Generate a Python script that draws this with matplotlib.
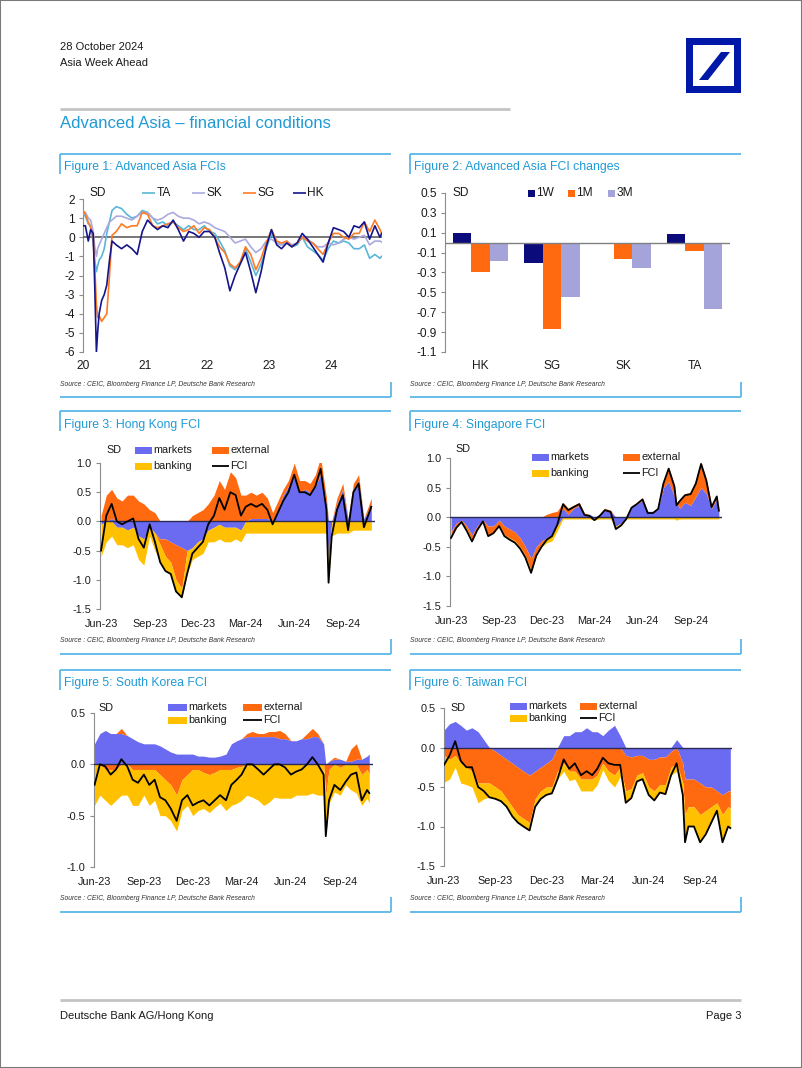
import numpy as np
import pandas as pd
import matplotlib
matplotlib.use("Agg")
import matplotlib.pyplot as plt
from matplotlib.patches import Rectangle, Polygon
from matplotlib.lines import Line2D

plt.rcParams['font.family'] = ['Liberation Sans', 'DejaVu Sans']

# ---------------- DATA ----------------
# Figure 1: Advanced Asia FCIs (SD)
fci_dates = ['2020-01-02', '2020-01-15', '2020-02-01', '2020-02-15', '2020-03-01', '2020-03-10',
             '2020-03-20', '2020-03-27', '2020-04-05', '2020-04-20', '2020-05-05', '2020-05-20',
             '2020-06-05', '2020-06-20',
             '2020-07-15', '2020-08-15', '2020-09-15', '2020-10-15', '2020-11-15', '2020-12-15',
             '2021-01-15', '2021-02-15', '2021-03-15', '2021-04-15', '2021-05-15', '2021-06-15',
             '2021-07-15', '2021-08-15', '2021-09-15', '2021-10-15', '2021-11-15', '2021-12-15',
             '2022-01-15', '2022-02-15', '2022-03-15', '2022-04-15', '2022-05-15', '2022-06-15',
             '2022-07-15', '2022-08-15', '2022-09-15', '2022-10-15', '2022-11-15', '2022-12-15',
             '2023-01-15', '2023-02-15', '2023-03-15', '2023-04-15', '2023-05-15', '2023-06-15',
             '2023-07-15', '2023-08-15', '2023-09-15', '2023-10-15', '2023-11-15', '2023-12-15',
             '2024-01-15', '2024-02-15', '2024-03-15', '2024-04-15', '2024-05-15', '2024-06-15',
             '2024-07-15', '2024-08-15', '2024-09-15', '2024-10-15', '2024-10-25']
fci_TA = [1.2, 1.1, 0.7, 0.6, -0.3, -1.2, -1.8, -1.5, -1.2, -1.0, -0.6, 0.2, 0.8, 1.4,
          1.6, 1.5, 1.2, 1.0, 1.1, 1.4,
          1.3, 1.0, 0.7, 0.8, 0.6, 0.8, 0.6, 0.4, 0.6, 0.4, 0.4, 0.6,
          0.3, 0.2, -0.2, -0.7, -1.5, -1.7, -1.3, -0.6, -1.3, -2.0, -1.4, -0.6,
          0.2, -0.3, -0.4, -0.3, -0.5, -0.4, 0.0, -0.5, -0.7, -0.9, -1.2, -0.6,
          -0.2, -0.3, -0.2, -0.3, -0.6, -0.6, -0.4, -1.1, -0.9, -1.1, -1.0]
fci_SK = [1.3, 1.3, 1.0, 0.9, 0.3, -0.5, -1.0, -0.6, -0.4, -0.1, 0.2, 0.5, 0.8, 0.9,
          1.1, 1.1, 1.0, 0.9, 1.1, 1.3,
          1.3, 1.0, 0.9, 1.0, 1.2, 1.3, 1.1, 1.0, 1.0, 0.9, 0.7, 0.8,
          0.7, 0.5, 0.4, 0.3, 0.0, -0.3, -0.2, -0.1, -0.5, -0.8, -0.6, -0.2,
          -0.1, -0.3, -0.4, -0.2, -0.4, -0.3, 0.0, -0.1, -0.3, -0.5, -0.5, -0.3,
          -0.4, -0.3, -0.1, 0.0, -0.1, 0.0, 0.1, -0.4, -0.2, -0.2, -0.25]
fci_SG = [1.4, 1.2, 0.8, 0.5, 0.0, -1.5, -3.5, -4.2, -4.1, -4.4, -4.2, -4.0, -2.0, 0.1,
          0.3, 0.7, 0.5, 0.6, 0.6, 1.3,
          1.2, 0.6, 0.5, 0.6, 0.7, 0.8, 0.5, 0.3, 0.4, 0.6, 0.2, 0.5,
          0.4, 0.0, -0.5, -0.8, -1.4, -1.6, -1.3, -0.5, -0.9, -1.7, -1.1, -0.3,
          0.4, -0.2, -0.3, -0.2, -0.5, -0.3, 0.0, -0.2, -0.3, -0.6, -0.9, -0.3,
          0.2, 0.2, 0.0, -0.1, 0.2, 0.2, 0.8, 0.3, 0.9, 0.4, 0.2]
fci_HK = [0.6, 0.6, -0.2, 0.4, 0.2, -2.5, -6.0, -5.0, -4.0, -3.3, -3.0, -2.5, -1.2, -0.2,
          -0.4, -0.6, -0.4, -0.6, -0.9, 0.3,
          0.9, 0.6, 0.4, 0.6, 0.5, 0.9, 0.4, -0.2, 0.3, 0.2, 0.0, 0.3,
          0.3, 0.0, -0.8, -1.6, -2.8, -2.0, -1.4, -0.8, -1.8, -2.9, -1.8, -0.5,
          0.4, -0.4, -0.6, -0.3, -0.5, -0.3, 0.2, -0.1, -0.5, -0.9, -1.3, -0.3,
          0.5, 0.4, 0.3, 0.0, 0.6, 0.5, 0.8, -0.1, 0.6, 0.0, 0.2]
fig1_years = ['20', '21', '22', '23', '24']

# Figure 2: Advanced Asia FCI changes (SD)
chg_markets = ['HK', 'SG', 'SK', 'TA']
chg_1W = [0.10, -0.20, 0.00, 0.09]
chg_1M = [-0.30, -0.87, -0.16, -0.08]
chg_3M = [-0.18, -0.55, -0.25, -0.67]

# Figures 3-6: FCI decomposition (SD)
comp_dates = ['2023-06-01', '2023-06-11', '2023-06-21', '2023-07-01', '2023-07-11', '2023-07-21',
              '2023-08-01', '2023-08-11', '2023-08-21', '2023-09-01', '2023-09-11', '2023-09-21',
              '2023-10-01', '2023-10-11', '2023-10-21', '2023-11-01', '2023-11-11', '2023-11-21',
              '2023-12-01', '2023-12-11', '2023-12-21', '2024-01-01', '2024-01-11', '2024-01-21',
              '2024-02-01', '2024-02-11', '2024-02-21', '2024-03-01', '2024-03-11', '2024-03-21',
              '2024-04-01', '2024-04-11', '2024-04-21', '2024-05-01', '2024-05-11', '2024-05-21',
              '2024-06-01', '2024-06-11', '2024-06-21', '2024-07-01', '2024-07-11', '2024-07-21',
              '2024-08-01', '2024-08-05', '2024-08-11', '2024-08-21', '2024-09-01', '2024-09-11',
              '2024-09-21', '2024-10-01', '2024-10-11', '2024-10-21', '2024-10-25']
month_ticks = ['2023-06-01', '2023-09-01', '2023-12-01', '2024-03-01', '2024-06-01', '2024-09-01']
month_labels = ['Jun-23', 'Sep-23', 'Dec-23', 'Mar-24', 'Jun-24', 'Sep-24']

hk_markets = [-0.05, 0.0, 0.05, -0.1, -0.1, -0.15, -0.1, -0.25, -0.3, -0.1,
              -0.2, -0.3, -0.3, -0.35, -0.4, -0.45, -0.5, -0.45, -0.35, -0.3,
              -0.15, -0.1, -0.05, -0.1, -0.1, -0.1, -0.15, 0.0, 0.05, 0.05,
              0.05, 0.05, 0.0, 0.2, 0.45, 0.6, 0.75, 0.5, 0.55, 0.5,
              0.6, 0.8, 0.3, -0.7, 0.0, 0.3, 0.55, 0.05, 0.55, 0.7,
              0.05, 0.2, 0.25]
hk_external = [0.1, 0.45, 0.5, 0.4, 0.35, 0.45, 0.45, 0.35, 0.3, 0.2,
               0.15, -0.1, -0.3, -0.35, -0.6, -0.7, 0.0, 0.1, 0.15, 0.2,
               0.3, 0.45, 0.7, 0.55, 0.85, 0.75, 0.45, 0.45, 0.45, 0.4,
               0.45, 0.35, 0.15, 0.15, 0.1, 0.1, 0.25, 0.2, 0.15, 0.15,
               0.2, 0.3, 0.1, -0.1, 0.0, 0.1, 0.1, 0.0, 0.1, 0.1,
               0.0, 0.1, 0.15]
hk_banking = [-0.55, -0.35, -0.25, -0.3, -0.3, -0.3, -0.3, -0.4, -0.45, -0.15,
              -0.3, -0.3, -0.25, -0.2, -0.2, -0.15, -0.4, -0.2, -0.25, -0.25,
              -0.2, -0.25, -0.25, -0.25, -0.25, -0.2, -0.2, -0.2, -0.2, -0.2,
              -0.2, -0.2, -0.2, -0.2, -0.2, -0.2, -0.2, -0.2, -0.2, -0.2,
              -0.2, -0.2, -0.2, -0.25, -0.25, -0.2, -0.2, -0.2, -0.15, -0.15,
              -0.15, -0.15, -0.15]

sg_markets = [-0.25, -0.1, -0.05, -0.15, -0.3, -0.15, -0.05, -0.15, -0.15, -0.05,
              -0.15, -0.2, -0.25, -0.35, -0.5, -0.7, -0.5, -0.4, -0.35, -0.3,
              -0.15, 0.15, 0.05, 0.15, 0.2, 0.05, 0.05, -0.02, 0.05, 0.13,
              0.1, -0.15, -0.1, 0.0, 0.17, 0.22, 0.28, 0.1, 0.1, 0.15,
              0.5, 0.6, 0.35, 0.25, 0.15, 0.25, 0.2, 0.35, 0.5, 0.4,
              0.15, 0.3, 0.12]
sg_external = [-0.05, -0.05, -0.03, -0.05, -0.08, -0.05, -0.02, -0.15, -0.1, -0.08,
               -0.15, -0.15, -0.15, -0.15, -0.15, -0.2, -0.1, -0.05, 0.05, 0.08,
               0.1, 0.1, 0.1, 0.05, 0.05, 0.02, 0.0, 0.0, 0.0, 0.02,
               0.02, 0.0, 0.0, 0.0, 0.02, 0.03, 0.05, 0.0, 0.0, 0.02,
               0.1, 0.25, 0.2, 0.0, 0.15, 0.15, 0.22, 0.25, 0.43, 0.25,
               0.05, 0.08, 0.02]
sg_banking = [-0.05, -0.03, 0.0, -0.03, -0.03, -0.02, 0.0, -0.02, -0.02, -0.02,
              -0.02, -0.03, -0.03, -0.03, -0.03, -0.04, -0.05, -0.05, -0.08, -0.1,
              -0.08, -0.03, -0.03, -0.03, -0.03, -0.03, -0.03, -0.03, -0.03, -0.03,
              -0.03, -0.05, -0.04, -0.03, -0.03, -0.03, -0.03, -0.03, -0.03, -0.03,
              -0.03, -0.03, -0.03, -0.05, -0.03, -0.03, -0.03, -0.03, -0.03, -0.03,
              -0.03, -0.03, -0.03]

kr_markets = [0.2, 0.3, 0.33, 0.3, 0.3, 0.3, 0.28, 0.25, 0.22, 0.2,
              0.2, 0.2, 0.18, 0.15, 0.12, 0.1, 0.1, 0.1, 0.1, 0.08,
              0.08, 0.07, 0.07, 0.08, 0.1, 0.2, 0.23, 0.25, 0.27, 0.27,
              0.27, 0.27, 0.27, 0.27, 0.25, 0.25, 0.23, 0.23, 0.25, 0.25,
              0.27, 0.27, 0.2, 0.0, 0.03, 0.05, 0.05, 0.03, 0.03, 0.05,
              0.05, 0.08, 0.1]
kr_external = [0.0, 0.0, -0.05, -0.05, -0.05, 0.05, 0.0, -0.05, -0.05, -0.05,
               -0.05, -0.05, -0.1, -0.15, -0.2, -0.3, -0.15, -0.1, -0.05, -0.05,
               -0.08, -0.1, -0.08, -0.05, -0.05, -0.05, -0.03, -0.02, 0.03, 0.05,
               0.03, 0.03, 0.05, 0.05, 0.08, 0.05, 0.0, 0.0, 0.0, 0.05,
               0.08, 0.03, 0.0, -0.3, -0.05, 0.02, -0.03, 0.0, 0.12, 0.15,
               -0.1, -0.05, -0.1]
kr_banking = [-0.4, -0.3, -0.3, -0.35, -0.3, -0.3, -0.3, -0.35, -0.35, -0.25,
              -0.35, -0.3, -0.4, -0.35, -0.35, -0.35, -0.3, -0.3, -0.45, -0.4,
              -0.35, -0.37, -0.34, -0.33, -0.4, -0.35, -0.35, -0.33, -0.3, -0.32,
              -0.35, -0.4, -0.37, -0.32, -0.33, -0.33, -0.33, -0.3, -0.3, -0.3,
              -0.28, -0.3, -0.3, -0.4, -0.33, -0.27, -0.27, -0.2, -0.25, -0.28,
              -0.3, -0.28, -0.28]

tw_markets = [0.22, 0.3, 0.33, 0.28, 0.22, 0.25, 0.2, 0.1, 0.0, -0.05,
              -0.1, -0.15, -0.2, -0.25, -0.3, -0.35, -0.3, -0.25, -0.2, -0.15,
              0.0, 0.15, 0.15, 0.2, 0.2, 0.25, 0.2, 0.2, 0.15, 0.22,
              0.28, 0.15, -0.1, -0.12, -0.1, -0.1, -0.15, -0.15, -0.12, -0.12,
              -0.05, 0.1, -0.2, -0.4, -0.4, -0.4, -0.45, -0.5, -0.5, -0.55,
              -0.6, -0.55, -0.55]
tw_external = [-0.1, -0.15, -0.1, -0.2, -0.25, -0.3, -0.45, -0.45, -0.45, -0.45,
               -0.45, -0.5, -0.55, -0.6, -0.6, -0.6, -0.35, -0.3, -0.3, -0.35,
               -0.3, -0.2, -0.3, -0.3, -0.4, -0.4, -0.4, -0.35, -0.2, -0.3,
               -0.35, -0.25, -0.45, -0.4, -0.25, -0.22, -0.35, -0.4, -0.35, -0.35,
               -0.2, -0.2, -0.25, -0.45, -0.35, -0.35, -0.4, -0.3, -0.25, -0.15,
               -0.25, -0.2, -0.22]
tw_banking = [-0.34, -0.25, -0.15, -0.25, -0.22, -0.2, -0.25, -0.2, -0.18, -0.15,
              -0.13, -0.1, -0.12, -0.1, -0.1, -0.1, -0.1, -0.1, -0.1, -0.08,
              -0.1, -0.1, -0.12, -0.1, -0.15, -0.15, -0.15, -0.12, -0.08, -0.12,
              -0.15, -0.12, -0.15, -0.12, -0.08, -0.08, -0.1, -0.12, -0.1, -0.12,
              -0.1, -0.1, -0.15, -0.35, -0.25, -0.25, -0.35, -0.3, -0.2, -0.1,
              -0.35, -0.25, -0.25]

# ---------------- STYLE ----------------
W, H = 802, 1068
FS_TOP = 8.6     # figures 1-2 text
FS_BOT = 7.8     # figures 3-6 text
CYAN_TXT = '#1f9ad6'
CYAN_LN = '#5db8e8'
AXC = '#8c8c8c'
C_MKT, C_EXT, C_BNK = '#6b6bf2', '#ff6a10', '#ffc000'
C_TA, C_SK, C_SG, C_HK = '#5ab6d8', '#aaaadf', '#ff7a22', '#15158c'
C_1W, C_1M, C_3M = '#0b0b7c', '#ff6a10', '#a4a4da'
DB_BLUE = '#0018a8'

fig = plt.figure(figsize=(W / 100, H / 100), dpi=100)
fig.patch.set_facecolor('white')


def fx(x):
    return x / W


def fy(y):
    return 1 - y / H


def axes_px(x0, y0, x1, y1):
    return fig.add_axes([x0 / W, 1 - y1 / H, (x1 - x0) / W, (y1 - y0) / H])


def hline(x0, x1, y, color, lw):
    fig.add_artist(Line2D([fx(x0), fx(x1)], [fy(y), fy(y)], transform=fig.transFigure,
                          color=color, lw=lw, solid_capstyle='butt'))


def vline(x, y0, y1, color, lw):
    fig.add_artist(Line2D([fx(x), fx(x)], [fy(y0), fy(y1)], transform=fig.transFigure,
                          color=color, lw=lw, solid_capstyle='butt'))


def ftext(x, y, s, **kw):
    kw.setdefault('fontsize', FS_BOT)
    kw.setdefault('va', 'center')
    kw.setdefault('ha', 'left')
    kw.setdefault('color', '#1a1a1a')
    fig.text(fx(x), fy(y), s, **kw)


def leg_patch(x, y, color, label, w=17, h=7, fs=FS_BOT):
    fig.patches.append(Rectangle((fx(x), fy(y + h / 2)), w / W, h / H, transform=fig.transFigure,
                                 facecolor=color, edgecolor='none'))
    ftext(x + w + 1.5, y, label, fontsize=fs)


def leg_line(x, y, color, label, w=17, lw=1.3, fs=FS_BOT):
    fig.add_artist(Line2D([fx(x), fx(x + w)], [fy(y), fy(y)], transform=fig.transFigure,
                          color=color, lw=lw, solid_capstyle='butt'))
    ftext(x + w + 1.5, y, label, fontsize=fs)


def panel(x0, x1, ytop, ybot, title, title_y):
    hline(x0, x1, ytop, CYAN_LN, 1.3)
    vline(x0, ytop, ytop + 20, CYAN_LN, 1.3)
    hline(x0, x1, ybot, CYAN_LN, 1.3)
    vline(x1, ybot - 15, ybot, CYAN_LN, 1.3)
    ftext(x0 + 4, title_y, title, fontsize=8.8, color=CYAN_TXT)
    ftext(x0, ybot - 13, 'Source : CEIC, Bloomberg Finance LP, Deutsche Bank Research',
          fontsize=4.85, style='italic', color='#333333')


def style_axes(ax, yticks, fmt, zero_color, fs, zero_lw=1.0, xpad=7):
    for s in ['top', 'right', 'bottom']:
        ax.spines[s].set_visible(False)
    ax.spines['left'].set_color(AXC)
    ax.spines['left'].set_linewidth(0.8)
    ax.tick_params(axis='y', direction='out', length=3, width=0.8, color=AXC,
                   labelsize=fs, pad=3, labelcolor='#1a1a1a')
    ax.tick_params(axis='x', length=0, labelsize=fs, pad=xpad, labelcolor='#1a1a1a')
    ax.set_yticks(yticks)
    ax.set_yticklabels([fmt.format(v) for v in yticks])
    ax.axhline(0, color=zero_color, lw=zero_lw, zorder=2.6)
    ax.set_facecolor('none')


# ---------------- PAGE ----------------
fig.add_artist(Rectangle((0, 0), 1, 1, transform=fig.transFigure, fill=False,
                         edgecolor='#7a7a7a', lw=1.5))
ftext(60, 47, '28 October 2024', fontsize=8.0)
ftext(60, 63, 'Asia Week Ahead', fontsize=8.0)
hline(60, 510, 108.5, '#c4c4c4', 2.0)
ftext(60, 123, 'Advanced Asia \u2013 financial conditions', fontsize=12, color=CYAN_TXT)

# logo
fig.patches.append(Rectangle((fx(686), fy(93)), 55 / W, 55 / H, transform=fig.transFigure,
                             facecolor=DB_BLUE, edgecolor='none'))
fig.patches.append(Rectangle((fx(693), fy(86)), 41 / W, 41 / H, transform=fig.transFigure,
                             facecolor='white', edgecolor='none'))
fig.patches.append(Polygon([(fx(699), fy(80)), (fx(708), fy(80)), (fx(730), fy(52)), (fx(721), fy(52))],
                           closed=True, transform=fig.transFigure, facecolor=DB_BLUE, edgecolor='none'))

# footer
hline(60, 741, 1000, '#c4c4c4', 2.0)
ftext(60, 1016, 'Deutsche Bank AG/Hong Kong', fontsize=8.0)
ftext(741, 1016, 'Page 3', fontsize=8.0, ha='right')

# panels
panel(60, 391, 154, 397, 'Figure 1: Advanced Asia FCIs', 167)
panel(410, 741, 154, 397, 'Figure 2: Advanced Asia FCI changes', 167)
panel(60, 391, 411, 654, 'Figure 3: Hong Kong FCI', 425)
panel(410, 741, 411, 654, 'Figure 4: Singapore FCI', 425)
panel(60, 391, 670, 912, 'Figure 5: South Korea FCI', 683)
panel(410, 741, 670, 912, 'Figure 6: Taiwan FCI', 683)

# ---------------- FIGURE 1 ----------------
d1 = pd.to_datetime(fci_dates)
ax1 = axes_px(83, 199, 382, 352)
for vals, col in [(fci_TA, C_TA), (fci_SK, C_SK), (fci_SG, C_SG), (fci_HK, C_HK)]:
    ax1.plot(d1, vals, color=col, lw=1.2, zorder=3)
ax1.set_ylim(-6, 2)
ax1.set_xlim(pd.Timestamp('2020-01-01'), pd.Timestamp('2024-10-27'))
style_axes(ax1, list(range(2, -7, -1)), '{:d}', '#606060', FS_TOP, 1.2, xpad=6)
ax1.set_xticks([pd.Timestamp('20' + y + '-01-01') for y in fig1_years])
ax1.set_xticklabels(fig1_years)
ftext(89, 193, 'SD', fontsize=FS_TOP)
leg_line(142, 193, C_TA, 'TA', w=13, lw=1.2, fs=FS_TOP)
leg_line(192, 193, C_SK, 'SK', w=13, lw=1.2, fs=FS_TOP)
leg_line(243, 193, C_SG, 'SG', w=13, lw=1.2, fs=FS_TOP)
leg_line(293, 193, C_HK, 'HK', w=13, lw=1.2, fs=FS_TOP)

# ---------------- FIGURE 2 ----------------
ax2 = axes_px(445, 193, 730, 352)
xc = np.arange(len(chg_markets))
bw = 0.26
ax2.bar(xc - bw, chg_1W, bw, color=C_1W, zorder=2)
ax2.bar(xc, chg_1M, bw, color=C_1M, zorder=2)
ax2.bar(xc + bw, chg_3M, bw, color=C_3M, zorder=2)
ax2.set_xlim(-0.5, len(chg_markets) - 0.5)
ax2.set_ylim(-1.1, 0.5)
style_axes(ax2, [0.5, 0.3, 0.1, -0.1, -0.3, -0.5, -0.7, -0.9, -1.1], '{:.1f}', '#808080', FS_TOP, 1.0,
           xpad=6)
ax2.set_xticks(xc)
ax2.set_xticklabels(chg_markets)
ftext(453, 193, 'SD', fontsize=FS_TOP)
leg_patch(528, 193, C_1W, '1W', w=7, h=7, fs=FS_TOP)
leg_patch(568, 193, C_1M, '1M', w=7, h=7, fs=FS_TOP)
leg_patch(608, 193, C_3M, '3M', w=7, h=7, fs=FS_TOP)

# ---------------- FIGURES 3-6 ----------------
d2 = pd.to_datetime(comp_dates)
mt = pd.to_datetime(month_ticks)


def decomposition(box, xlim, ylim, yticks, m, e, b):
    ax = axes_px(*box)
    n = len(d2)
    pos = np.zeros(n)
    neg = np.zeros(n)
    for vals, col in [(m, C_MKT), (e, C_EXT), (b, C_BNK)]:
        v = np.asarray(vals, dtype=float)
        p = np.clip(v, 0, None)
        q = np.clip(v, None, 0)
        ax.fill_between(d2, pos, pos + p, color=col, lw=0, zorder=1)
        ax.fill_between(d2, neg, neg + q, color=col, lw=0, zorder=1)
        pos = pos + p
        neg = neg + q
    total = np.asarray(m) + np.asarray(e) + np.asarray(b)
    ax.plot(d2, total, color='black', lw=1.3, zorder=3)
    ax.set_xlim(pd.Timestamp(xlim[0]), pd.Timestamp(xlim[1]))
    ax.set_ylim(*ylim)
    style_axes(ax, yticks, '{:.1f}', '#2b2b55', FS_BOT, 1.0)
    ax.set_xticks(mt)
    ax.set_xticklabels(month_labels)
    return ax


decomposition((100, 463, 375, 609), ('2023-05-30', '2024-11-01'), (-1.5, 1.0),
              [1.0, 0.5, 0.0, -0.5, -1.0, -1.5], hk_markets, hk_external, hk_banking)
ftext(106, 450, 'SD')
leg_patch(135, 450, C_MKT, 'markets')
leg_patch(212, 450, C_EXT, 'external')
leg_patch(135, 466, C_BNK, 'banking')
leg_line(212, 466, 'black', 'FCI')

decomposition((450, 458, 722, 606), ('2023-05-30', '2024-10-31'), (-1.5, 1.0),
              [1.0, 0.5, 0.0, -0.5, -1.0, -1.5], sg_markets, sg_external, sg_banking)
ftext(455, 449, 'SD')
leg_patch(532, 457, C_MKT, 'markets')
leg_patch(623, 457, C_EXT, 'external')
leg_patch(532, 473, C_BNK, 'banking')
leg_line(623, 473, 'black', 'FCI')

decomposition((94, 713, 373, 867), ('2023-05-31', '2024-11-01'), (-1.0, 0.5),
              [0.5, 0.0, -0.5, -1.0], kr_markets, kr_external, kr_banking)
ftext(98, 708, 'SD')
leg_patch(168, 707, C_MKT, 'markets', w=19)
leg_patch(243, 707, C_EXT, 'external', w=19)
leg_patch(168, 720, C_BNK, 'banking', w=19)
leg_line(243, 720, 'black', 'FCI', w=19)

decomposition((444, 708, 732, 866), ('2023-06-01', '2024-10-28'), (-1.5, 0.5),
              [0.5, 0.0, -0.5, -1.0, -1.5], tw_markets, tw_external, tw_banking)
ftext(450, 708, 'SD')
leg_patch(510, 706, C_MKT, 'markets')
leg_patch(580, 706, C_EXT, 'external')
leg_patch(510, 718, C_BNK, 'banking')
leg_line(580, 718, 'black', 'FCI')

fig.savefig('out.png', dpi=100)
